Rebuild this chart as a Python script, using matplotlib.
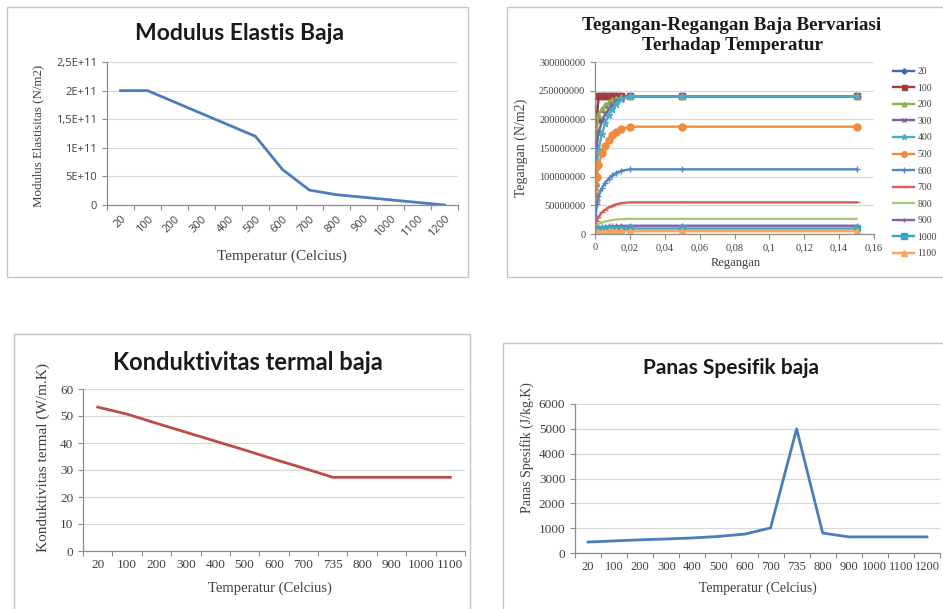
import numpy as np
import matplotlib
matplotlib.use("Agg")
import matplotlib.pyplot as plt
from matplotlib.patches import Rectangle

W, H, DPI = 943, 609, 100

# ---------------- data ----------------
# Modulus elastisitas baja terhadap temperatur
modulus_temps = ["20", "100", "200", "300", "400", "500", "600", "700",
                 "800", "900", "1000", "1100", "1200"]
modulus_values = [2.0e11, 2.0e11, 1.8e11, 1.6e11, 1.4e11, 1.2e11, 0.62e11,
                  0.26e11, 0.18e11, 0.135e11, 0.09e11, 0.045e11, 0.0]
modulus_yticks = [0, 5e10, 1e11, 1.5e11, 2e11, 2.5e11]
modulus_ylabels = ["0", "5E+10", "1E+11", "1,5E+11", "2E+11", "2,5E+11"]

# Kurva tegangan-regangan per temperatur
strain = [0, 0.0005, 0.001, 0.002, 0.004, 0.006, 0.008, 0.010, 0.012,
          0.015, 0.02, 0.05, 0.15]
stress_20 = [0, 100e6, 200e6, 240e6, 240e6, 240e6, 240e6, 240e6, 240e6,
             240e6, 240e6, 240e6, 240e6]
stress_100 = [0, 100e6, 200e6, 240e6, 240e6, 240e6, 240e6, 240e6, 240e6,
              240e6, 240e6, 240e6, 240e6]
stress_200 = [0, 90e6, 180e6, 207.5e6, 218.1e6, 224.6e6, 229.4e6, 232.9e6,
              235.6e6, 238.3e6, 240e6, 240e6, 240e6]
stress_300 = [0, 80e6, 153.4e6, 176.0e6, 196.4e6, 209.3e6, 218.7e6, 225.8e6,
              231.2e6, 236.6e6, 240e6, 240e6, 240e6]
stress_400 = [0, 70e6, 119.0e6, 146.1e6, 175.2e6, 194.2e6, 208.1e6, 218.7e6,
              226.8e6, 235.0e6, 240e6, 240e6, 240e6]
stress_500 = [0, 60e6, 100.1e6, 119.7e6, 140.6e6, 154.3e6, 164.3e6, 171.9e6,
              177.7e6, 183.6e6, 187.2e6, 187.2e6, 187.2e6]
stress_600 = [0, 31e6, 52.5e6, 65.7e6, 80.3e6, 89.8e6, 96.8e6, 102.1e6,
              106.2e6, 110.3e6, 112.8e6, 112.8e6, 112.8e6]
stress_700 = [0, 13e6, 22.6e6, 29.7e6, 37.6e6, 42.7e6, 46.5e6, 49.4e6,
              51.6e6, 53.8e6, 55.2e6, 55.2e6, 55.2e6]
stress_800 = [0, 9e6, 14.2e6, 16.9e6, 19.8e6, 21.7e6, 23.2e6, 24.2e6,
              25.1e6, 25.9e6, 26.4e6, 26.4e6, 26.4e6]
stress_900 = [0, 6.75e6, 9.9e6, 10.9e6, 12.0e6, 12.7e6, 13.2e6, 13.6e6,
              13.9e6, 14.2e6, 14.4e6, 14.4e6, 14.4e6]
stress_1000 = [0, 4.5e6, 6.6e6, 7.3e6, 8.0e6, 8.5e6, 8.8e6, 9.1e6,
               9.3e6, 9.5e6, 9.6e6, 9.6e6, 9.6e6]
stress_1100 = [0, 2.25e6, 3.3e6, 3.6e6, 4.0e6, 4.2e6, 4.4e6, 4.5e6,
               4.6e6, 4.7e6, 4.8e6, 4.8e6, 4.8e6]
stress_labels = ["20", "100", "200", "300", "400", "500", "600", "700",
                 "800", "900", "1000", "1100"]
stress_series = [stress_20, stress_100, stress_200, stress_300, stress_400,
                 stress_500, stress_600, stress_700, stress_800, stress_900,
                 stress_1000, stress_1100]
strain_ticks = [0, 0.02, 0.04, 0.06, 0.08, 0.10, 0.12, 0.14, 0.16]
stress_yticks = [0, 50000000, 100000000, 150000000, 200000000, 250000000,
                 300000000]

# Konduktivitas termal baja
konduk_temps = ["20", "100", "200", "300", "400", "500", "600", "700",
                "735", "800", "900", "1000", "1100"]
konduk_values = [53.3, 50.7, 47.3, 44.0, 40.7, 37.4, 34.0, 30.7, 27.3,
                 27.3, 27.3, 27.3, 27.3]

# Panas spesifik baja
panas_temps = ["20", "100", "200", "300", "400", "500", "600", "700", "735",
               "800", "900", "1000", "1100", "1200"]
panas_values = [440, 488, 530, 565, 606, 667, 760, 1008, 5000, 803, 650,
                650, 650, 650]

# ---------------- style ----------------
SERIF = "Liberation Serif"
TITLE_FONT = "Lato"
AXIS_C = "#8c8c8c"
GRID_C = "#d9d9d9"
TXT_C = "#404040"
BOX_C = "#c4c4c4"
BLUE = "#4a7ebb"
RED = "#be4b48"

series_style = [
    ("#3d6bab", "D", 3.5), ("#a33b38", "s", 4.5), ("#8fb04f", "^", 4.0),
    ("#7a5fa0", "x", 4.0), ("#4bacc6", "*", 5.0), ("#f08a3c", "o", 5.0),
    ("#4f86c6", "+", 5.0), ("#d0605c", "_", 4.0), ("#a9c97a", None, 0),
    ("#7e63a8", "+", 4.0), ("#3aa5c2", "s", 5.0), ("#f9a45f", "^", 5.0),
]

fig = plt.figure(figsize=(W / DPI, H / DPI), dpi=DPI)
fig.patch.set_facecolor("white")


def fx(x):
    return x / W


def fy(y):
    return 1 - y / H


def axes_px(x0, y0, x1, y1):
    return fig.add_axes([fx(x0), fy(y1), (x1 - x0) / W, (y1 - y0) / H])


def box(x0, y0, x1, y1):
    fig.add_artist(Rectangle((fx(x0), fy(y1)), (x1 - x0) / W, (y1 - y0) / H,
                             transform=fig.transFigure, fill=False,
                             edgecolor=BOX_C, linewidth=1.0))


def base_style(ax):
    for s in ("top", "right"):
        ax.spines[s].set_visible(False)
    for s in ("left", "bottom"):
        ax.spines[s].set_color(AXIS_C)
        ax.spines[s].set_linewidth(0.9)
    ax.yaxis.grid(True, color=GRID_C, linewidth=0.9)
    ax.set_axisbelow(True)
    ax.tick_params(axis="y", length=3.5, color=AXIS_C, width=0.8,
                   labelcolor=TXT_C)


def category_axis(ax, labels, fs, rotation=0, family=SERIF):
    n = len(labels)
    ax.set_xlim(-0.5, n - 0.5)
    ax.set_xticks(range(n))
    if rotation:
        ax.set_xticklabels(labels, rotation=rotation, ha="right", va="top",
                           rotation_mode="anchor", fontsize=fs,
                           family=family, color=TXT_C)
    else:
        ax.set_xticklabels(labels, fontsize=fs, family=family, color=TXT_C)
    ax.tick_params(axis="x", which="major", length=0, pad=6)
    ax.set_xticks(np.arange(-0.5, n, 1.0), minor=True)
    ax.tick_params(axis="x", which="minor", length=3.5, color=AXIS_C,
                   width=0.8)


# ---------------- Modulus Elastis Baja ----------------
box(7, 7, 468, 277)
ax1 = axes_px(107, 62, 458, 205)
base_style(ax1)
ax1.plot(range(len(modulus_values)), modulus_values, color=BLUE,
         linewidth=2.0, solid_joinstyle="round")
ax1.set_ylim(0, 2.5e11)
ax1.set_yticks(modulus_yticks)
ax1.set_yticklabels(modulus_ylabels, fontsize=8, family="Open Sans",
                    color=TXT_C)
category_axis(ax1, modulus_temps, 8, rotation=45, family="Open Sans")
fig.text(fx(240), fy(33), "Modulus Elastis Baja", family=TITLE_FONT,
         fontweight="bold", fontsize=16.5, ha="center", va="center",
         color="#1a1a1a")
fig.text(fx(282), fy(256), "Temperatur (Celcius)", family=SERIF,
         fontsize=11, ha="center", va="center", color=TXT_C)
fig.text(fx(38), fy(136), "Modulus Elastisitas (N/m2)", family=SERIF,
         fontsize=9.3, ha="center", va="center", rotation=90, color=TXT_C)

# ---------------- Tegangan-Regangan ----------------
box(507, 7, 960, 277)
ax2 = axes_px(595, 62, 874, 234)
base_style(ax2)
handles = []
for vals, lab, (col, mk, ms) in zip(stress_series, stress_labels,
                                    series_style):
    line, = ax2.plot(strain, vals, color=col, linewidth=1.7,
                     marker=mk if mk else "None", markersize=ms,
                     markeredgewidth=1.0, markeredgecolor=col,
                     markerfacecolor=col, label=lab)
    handles.append(line)
ax2.set_xlim(0, 0.16)
ax2.set_ylim(0, 3e8)
ax2.set_yticks(stress_yticks)
ax2.set_yticklabels([str(v) for v in stress_yticks], fontsize=7.5,
                    family=SERIF, color=TXT_C)
ax2.set_xticks(strain_ticks)
ax2.set_xticklabels([f"{v:g}".replace(".", ",") for v in strain_ticks],
                    fontsize=7.5, family=SERIF, color=TXT_C)
ax2.tick_params(axis="x", length=3.5, color=AXIS_C, width=0.8, pad=3)
leg = ax2.legend(handles=handles, loc="upper left",
                 bbox_to_anchor=(fx(893), fy(67)),
                 bbox_transform=fig.transFigure, frameon=False,
                 prop={"family": SERIF, "size": 7}, handlelength=2.2,
                 handletextpad=0.3, labelspacing=0.78, borderaxespad=0,
                 borderpad=0, markerscale=0.8)
for t in leg.get_texts():
    t.set_color(TXT_C)
fig.text(fx(732), fy(25), "Tegangan-Regangan Baja Bervariasi",
         family=SERIF, fontweight="bold", fontsize=13.8, ha="center",
         va="center", color="#1a1a1a")
fig.text(fx(732), fy(45), "Terhadap Temperatur", family=SERIF,
         fontweight="bold", fontsize=13.8, ha="center", va="center",
         color="#1a1a1a")
fig.text(fx(736), fy(263), "Regangan", family=SERIF, fontsize=9,
         ha="center", va="center", color=TXT_C)
fig.text(fx(521), fy(148), "Tegangan (N/m2)", family=SERIF, fontsize=10,
         ha="center", va="center", rotation=90, color=TXT_C)

# ---------------- Konduktivitas termal baja ----------------
box(14, 334, 470, 620)
ax3 = axes_px(83, 389, 465, 551)
base_style(ax3)
ax3.plot(range(len(konduk_values)), konduk_values, color=RED, linewidth=2.0,
         solid_joinstyle="round")
ax3.set_ylim(0, 60)
ax3.set_yticks(range(0, 61, 10))
ax3.set_yticklabels([str(v) for v in range(0, 61, 10)], fontsize=9.5,
                    family=SERIF, color=TXT_C)
category_axis(ax3, konduk_temps, 9.5)
fig.text(fx(248), fy(362), "Konduktivitas termal baja", family=TITLE_FONT,
         fontweight="bold", fontsize=17, ha="center", va="center",
         color="#1a1a1a")
fig.text(fx(270), fy(588), "Temperatur (Celcius)", family=SERIF,
         fontsize=10.5, ha="center", va="center", color=TXT_C)
fig.text(fx(43), fy(458), "Konduktivitas termal (W/m.K)", family=SERIF,
         fontsize=11, ha="center", va="center", rotation=90, color=TXT_C)

# ---------------- Panas Spesifik baja ----------------
box(503, 343, 960, 620)
ax4 = axes_px(575, 404, 940, 553)
base_style(ax4)
ax4.plot(range(len(panas_values)), panas_values, color=BLUE, linewidth=2.0,
         solid_joinstyle="round")
ax4.set_ylim(0, 6000)
ax4.set_yticks(range(0, 6001, 1000))
ax4.set_yticklabels([str(v) for v in range(0, 6001, 1000)], fontsize=9.5,
                    family=SERIF, color=TXT_C)
category_axis(ax4, panas_temps, 9)
fig.text(fx(731), fy(368), "Panas Spesifik baja", family=TITLE_FONT,
         fontweight="bold", fontsize=15, ha="center", va="center",
         color="#1a1a1a")
fig.text(fx(758), fy(588), "Temperatur (Celcius)", family=SERIF,
         fontsize=10, ha="center", va="center", color=TXT_C)
fig.text(fx(527), fy(448), "Panas Spesifik (J/kg.K)", family=SERIF,
         fontsize=10, ha="center", va="center", rotation=90, color=TXT_C)

fig.savefig("out.png", dpi=DPI, facecolor="white")
